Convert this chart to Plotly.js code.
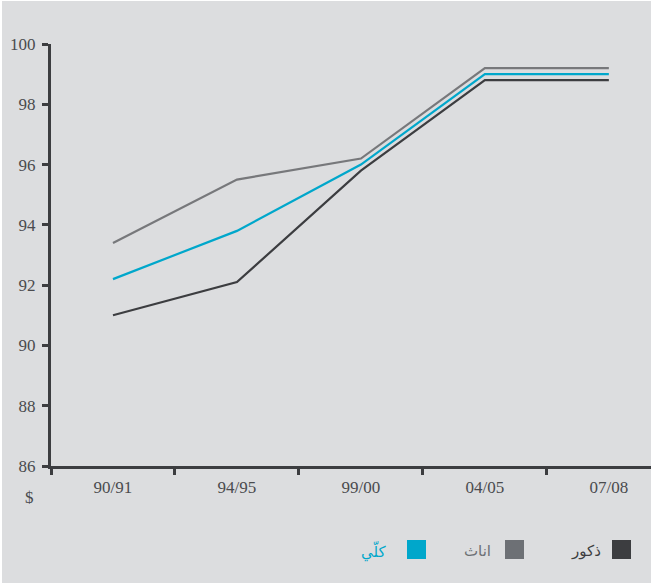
<!DOCTYPE html>
<html>
<head>
<meta charset="utf-8">
<script src="https://cdn.plot.ly/plotly-3.0.1.min.js"></script>
<style>
html,body{margin:0;padding:0;background:#ffffff;}
#chart{position:absolute;left:2px;top:1px;width:649px;height:582px;}
</style>
</head>
<body>
<div id="chart"></div>
<script>
const categories = ["90/91", "94/95", "99/00", "04/05", "07/08"];
const females = [93.4, 95.5, 96.2, 99.2, 99.2];
const total = [92.2, 93.8, 96.0, 99.0, 99.0];
const males = [91.0, 92.1, 95.8, 98.8, 98.8];
const yTicks = [86, 88, 90, 92, 94, 96, 98, 100];
const legendLabels = ["ذكور", "اناث", "كلّي"];

const colMale = "#3c3d40", colFemale = "#77787b", colTotal = "#00a7cb";

const W = 649, H = 582;
const mL = 49, mR = 0, mT = 43, mB = 117;
const pw = W - mL - mR, ph = H - mT - mB;
function px(x){ return (x - 2 - mL) / pw; }
function py(y){ return (H - mB - (y - 1)) / ph; }

const traces = [
  {x: categories, y: females, type: "scatter", mode: "lines", line: {color: colFemale, width: 2.2}, hoverinfo: "skip"},
  {x: categories, y: total, type: "scatter", mode: "lines", line: {color: colTotal, width: 2.2}, hoverinfo: "skip"},
  {x: categories, y: males, type: "scatter", mode: "lines", line: {color: colMale, width: 2.2}, hoverinfo: "skip"}
];

const legendItems = [
  {label: legendLabels[0], color: colMale, textColor: "#3c3d40", sq: 612, tx: 603},
  {label: legendLabels[1], color: "#6d7075", textColor: "#6d7075", sq: 505, tx: 493},
  {label: legendLabels[2], color: "#00a7cb", textColor: "#00a7cb", sq: 407, tx: 388}
];
const shapes = [];
const annotations = [{
  text: "$", xref: "paper", yref: "paper", x: px(30), y: py(498), xanchor: "center", yanchor: "middle",
  showarrow: false, font: {family: "Liberation Serif", size: 17, color: "#4a4b4e"}
}];
legendItems.forEach(it => {
  shapes.push({type: "rect", xref: "paper", yref: "paper", x0: px(it.sq), x1: px(it.sq + 19), y0: py(559), y1: py(540),
    fillcolor: it.color, line: {width: 0}});
  annotations.push({text: it.label, xref: "paper", yref: "paper", x: px(it.tx), y: py(551), xanchor: "right", yanchor: "middle",
    showarrow: false, font: {family: "DejaVu Sans", size: 15, color: it.textColor}});
});

const layout = {
  width: W, height: H,
  margin: {l: mL, r: mR, t: mT, b: mB, pad: 0},
  paper_bgcolor: "#dcdddf", plot_bgcolor: "#dcdddf",
  showlegend: false,
  xaxis: {
    type: "category", range: [-0.5, 4.34], tickson: "boundaries",
    showgrid: false, zeroline: false, showline: true, linecolor: "#3c3d40", linewidth: 3,
    ticks: "outside", ticklen: 6, tickwidth: 3, tickcolor: "#3c3d40", ticklabelstandoff: 4,
    tickfont: {family: "Liberation Serif", size: 17, color: "#4a4b4e"}
  },
  yaxis: {
    range: [86, 100], tickvals: yTicks, ticktext: yTicks.map(String),
    showgrid: false, zeroline: false, showline: true, linecolor: "#3c3d40", linewidth: 3,
    ticks: "outside", ticklen: 6, tickwidth: 3, tickcolor: "#3c3d40", ticklabelstandoff: 3,
    tickfont: {family: "Liberation Serif", size: 17, color: "#4a4b4e"}
  },
  shapes: shapes,
  annotations: annotations
};

Plotly.newPlot("chart", traces, layout, {displayModeBar: false, staticPlot: true});
</script>
</body>
</html>
